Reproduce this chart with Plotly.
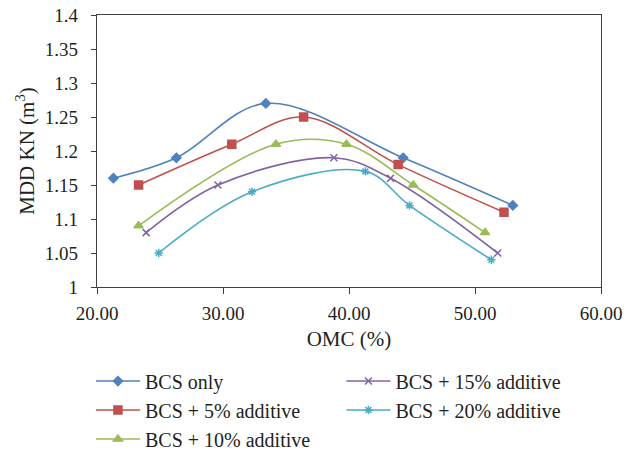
import plotly.graph_objects as go

series_names = ["BCS only", "BCS + 5% additive", "BCS + 10% additive",
                "BCS + 15% additive", "BCS + 20% additive"]
omc = [
    [21.3, 26.3, 33.4, 44.3, 53.0],
    [23.3, 30.7, 36.4, 43.9, 52.3],
    [23.3, 34.2, 39.8, 45.1, 50.8],
    [23.9, 29.6, 38.8, 43.3, 51.8],
    [24.9, 32.3, 41.3, 44.8, 51.3],
]
mdd = [
    [1.16, 1.19, 1.27, 1.19, 1.12],
    [1.15, 1.21, 1.25, 1.18, 1.11],
    [1.09, 1.21, 1.21, 1.15, 1.08],
    [1.08, 1.15, 1.19, 1.16, 1.05],
    [1.05, 1.14, 1.17, 1.12, 1.04],
]
x_ticks = [20, 30, 40, 50, 60]
y_ticks = [1, 1.05, 1.1, 1.15, 1.2, 1.25, 1.3, 1.35, 1.4]

colors = ["#4F81BD", "#C0504D", "#9BBB59", "#8064A2", "#4BACC6"]
symbols = ["diamond", "square", "triangle-up", "x-thin-open", "asterisk-open"]
sizes = [7, 8, 8, 7, 7]
legends = ["legend", "legend", "legend", "legend2", "legend2"]

FONT = "Liberation Serif, Times New Roman, serif"
TXT = "#231F20"

fig = go.Figure()
for i, name in enumerate(series_names):
    fig.add_trace(go.Scatter(
        x=omc[i], y=mdd[i], name=name, mode="lines+markers",
        line=dict(color=colors[i], width=1.6, shape="spline", smoothing=1.0),
        marker=dict(symbol=symbols[i], size=sizes[i], color=colors[i],
                    line=dict(color=colors[i], width=1.5)),
        legend=legends[i], legendgroup="g%d" % i,
    ))

tick_font = dict(family=FONT, size=19, color=TXT)
leg_font = dict(family=FONT, size=20, color=TXT)
title_font = dict(family=FONT, size=21, color=TXT)
fig.update_layout(
    width=636, height=451,
    margin=dict(l=97, r=35, t=15, b=164, autoexpand=False),
    plot_bgcolor="white", paper_bgcolor="white",
    font=dict(family=FONT, size=19, color=TXT),
    showlegend=True,
    legend=dict(x=-0.012, y=-0.274, xanchor="left", yanchor="top",
                orientation="v", font=leg_font,
                tracegroupgap=0, itemwidth=44, bgcolor="rgba(0,0,0,0)"),
    legend2=dict(x=0.485, y=-0.274, xanchor="left", yanchor="top",
                 orientation="v", font=leg_font,
                 tracegroupgap=0, itemwidth=44, bgcolor="rgba(0,0,0,0)"),
    xaxis=dict(range=[20, 60], tickvals=x_ticks, tickformat=".2f",
               tickfont=tick_font, ticklabelstandoff=3,
               showgrid=False, zeroline=False, showline=True,
               linecolor="#404040", linewidth=1.2, mirror=True,
               ticks="outside", ticklen=6, tickcolor="#404040",
               title=dict(text="OMC (%)", standoff=8, font=title_font)),
    yaxis=dict(range=[1, 1.4], tickvals=y_ticks, tickfont=tick_font,
               ticklabelstandoff=9,
               showgrid=False, zeroline=False, showline=True,
               linecolor="#404040", linewidth=1.2, mirror=True,
               ticks="outside", ticklen=5, tickcolor="#404040",
               title=dict(text="MDD KN (m<sup>3</sup>)", standoff=4,
                          font=title_font)),
)

fig.write_html("out.html")
